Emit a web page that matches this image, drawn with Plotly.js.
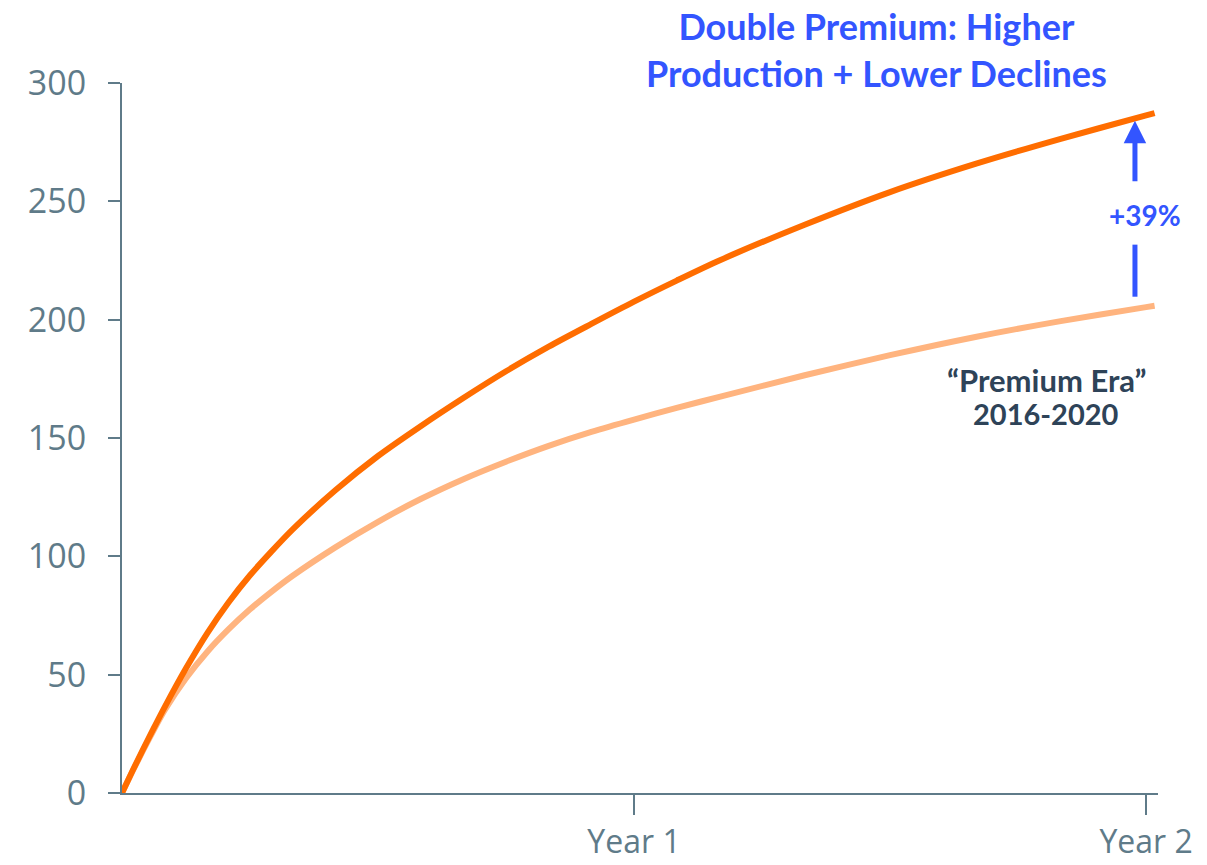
<!DOCTYPE html>
<html>
<head>
<meta charset="utf-8">
<script src="https://cdn.plot.ly/plotly-3.0.1.min.js"></script>
<style>
  html, body { margin: 0; padding: 0; background: #ffffff; }
  #chart { width: 1207px; height: 865px; }
</style>
</head>
<body>
<div id="chart"></div>
<script>
// Months since first production
const months = [0, 0.25, 0.5, 0.75, 1, 1.5, 2, 2.5, 3, 3.5, 4, 5, 6, 7, 8, 9, 10, 11, 12, 13, 14, 16, 18, 20, 22, 24, 24.2];
// Cumulative production, "Double Premium"
const doublePremium = [0, 9.5, 18.7, 27.6, 36.3, 52.7, 67.6, 80.6, 92, 102, 111.4, 127.9, 142.4, 155, 166.9, 178.2, 188.6, 198.2, 207.6, 216.5, 225, 240.1, 253.9, 265.8, 276.4, 286.3, 287.3];
// Cumulative production, "Premium Era" 2016-2020
const premiumEra = [0, 9.3, 18.2, 26.8, 35, 48.5, 59.7, 69.2, 77.6, 85, 91.8, 103.8, 114.6, 124.2, 132.6, 140, 146.7, 152.6, 157.8, 162.7, 167.4, 176.5, 185, 192.7, 199.4, 205.3, 205.9];

const yTickVals = [0, 50, 100, 150, 200, 250, 300];
const xTickVals = [12, 24];
const xTickText = ['Year 1', 'Year 2'];

const axisColor = '#5f7b89';
const blue = '#3355ff';
const navy = '#2e4358';

const traces = [
  {
    x: months, y: premiumEra, type: 'scatter', mode: 'lines',
    name: 'Premium Era 2016-2020',
    line: { color: '#ffb47f', width: 6, shape: 'spline', smoothing: 0.8 },
    cliponaxis: false, hoverinfo: 'skip'
  },
  {
    x: months, y: doublePremium, type: 'scatter', mode: 'lines',
    name: 'Double Premium',
    line: { color: '#ff6d00', width: 6, shape: 'spline', smoothing: 0.8 },
    cliponaxis: false, hoverinfo: 'skip'
  }
];

const layout = {
  width: 1207, height: 865,
  margin: { l: 122, r: 49, t: 83, b: 72 },
  paper_bgcolor: '#ffffff', plot_bgcolor: '#ffffff',
  showlegend: false,
  font: { family: 'Open Sans, sans-serif', color: axisColor },
  xaxis: {
    range: [0, 24.28], fixedrange: true,
    showgrid: false, zeroline: false,
    showline: true, linecolor: axisColor, linewidth: 2,
    ticks: 'outside', ticklen: 20, tickwidth: 2, tickcolor: axisColor,
    tickvals: xTickVals, ticktext: xTickText,
    tickfont: { family: 'Open Sans, sans-serif', size: 32, color: axisColor },
    ticklabelstandoff: 0
  },
  yaxis: {
    range: [0, 300], fixedrange: true,
    showgrid: false, zeroline: false,
    showline: true, linecolor: axisColor, linewidth: 2,
    ticks: 'outside', ticklen: 12, tickwidth: 2, tickcolor: axisColor,
    tickvals: yTickVals,
    tickfont: { family: 'Open Sans, sans-serif', size: 34, color: axisColor },
    ticklabelstandoff: 15
  },
  shapes: [
    {
      type: 'line', xref: 'x', yref: 'y',
      x0: 23.74, x1: 23.74, y0: 209.7, y1: 231.7,
      line: { color: blue, width: 5 }
    }
  ],
  annotations: [
    {
      xref: 'paper', yref: 'paper', x: 0.7278, y: 1.0465,
      text: '<b>Double Premium: Higher<br>Production + Lower Declines</b>',
      showarrow: false, xanchor: 'center', yanchor: 'middle', align: 'center',
      font: { family: 'Lato, sans-serif', size: 36, color: blue }
    },
    {
      xref: 'x', yref: 'y', axref: 'x', ayref: 'y',
      x: 23.74, y: 284, ax: 23.74, ay: 257.9,
      showarrow: true, arrowhead: 2, arrowsize: 0.9, arrowwidth: 5,
      arrowcolor: blue, text: ''
    },
    {
      xref: 'x', yref: 'y', x: 23.97, y: 244.4,
      text: '<b>+39%</b>', showarrow: false,
      font: { family: 'Lato, sans-serif', size: 28, color: blue },
      xanchor: 'center', yanchor: 'middle'
    },
    {
      xref: 'x', yref: 'y', x: 21.68, y: 174.6,
      text: '<b>\u201cPremium Era\u201d</b>', showarrow: false,
      font: { family: 'Lato, sans-serif', size: 31, color: navy },
      xanchor: 'center', yanchor: 'middle'
    },
    {
      xref: 'x', yref: 'y', x: 21.66, y: 160.5,
      text: '<b>2016-2020</b>', showarrow: false,
      font: { family: 'Lato, sans-serif', size: 29, color: navy },
      xanchor: 'center', yanchor: 'middle'
    }
  ]
};

Plotly.newPlot('chart', traces, layout, { staticPlot: true, displayModeBar: false });
</script>
</body>
</html>
